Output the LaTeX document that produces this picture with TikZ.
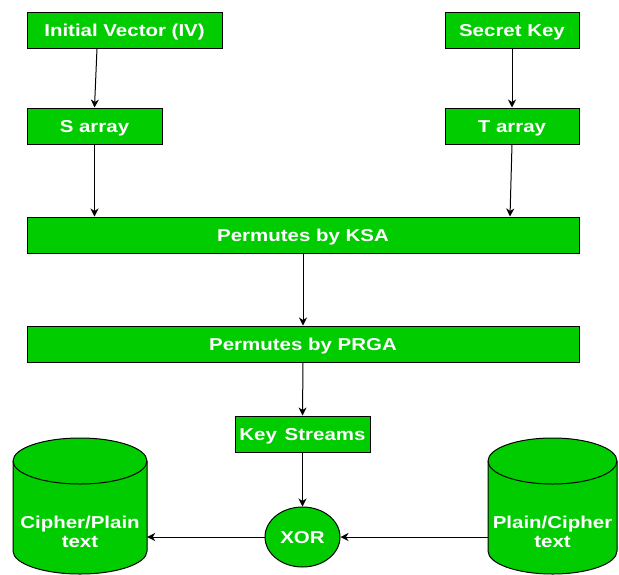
\documentclass[tikz,border=0pt]{standalone}
\usepackage{fontspec}
\newfontfamily\lblfont{Liberation Sans}[FakeStretch=1.19]
\usetikzlibrary{arrows.meta,calc,backgrounds,shapes.geometric}
\definecolor{boxgreen}{HTML}{00CC00}
\begin{document}
\begin{tikzpicture}[x=1pt,y=-1pt,
  lbl/.style={text=white,font=\lblfont\bfseries\fontsize{17.2}{19.5}\selectfont},
  box/.style={lbl,draw=black,fill=boxgreen,line width=1pt,minimum height=36pt,inner sep=0pt,text height=12.3pt,text depth=0pt},
  xorshape/.style={lbl,ellipse,draw=black,fill=boxgreen,line width=1pt,minimum width=75pt,minimum height=60pt,inner sep=0pt,text height=12.3pt,text depth=0pt},
  cyltext/.style={lbl,align=center,inner sep=0pt},
  cylfill/.style={draw=black,fill=boxgreen,line width=1pt},
  arr/.style={draw=black,line width=1pt,-{Stealth[length=8pt,width=8pt,inset=2.5pt]}}]
\useasboundingbox (0,0) rectangle (619,574);

% boxes
\node[box,minimum width=195pt] (iv) at (124.5,30) {Initial Vector (IV)};
\node[box,minimum width=134pt] (sk) at (512,30) {Secret Key};
\node[box,minimum width=135pt] (sarr) at (94.5,126) {S array};
\node[box,minimum width=134pt] (tarr) at (512,126) {T array};
\node[box,minimum width=552pt] (ksa) at (303,235) {Permutes by KSA};
\node[box,minimum width=552pt] (prga) at (303,344) {Permutes by PRGA};
\node[box,minimum width=135pt] (ks) at (302.5,434) {Key\hspace{0.45em}Streams};
\node[xorshape] (xor) at (302.5,537) {XOR};

% cylinder texts
\node[cyltext,minimum width=134pt] (lc) at (80,532) {Cipher/Plain\\text};
\node[cyltext,minimum width=129pt] (rc) at (552.5,532) {Plain/Cipher\\text};

% cylinder bodies
\begin{scope}[on background layer]
  \path[cylfill] (13,461) -- (13,551) arc[start angle=180,end angle=360,x radius=67pt,y radius=23pt]
    -- (147,461) arc[start angle=0,end angle=180,x radius=67pt,y radius=23pt] -- cycle;
  \draw[line width=1pt] (13,461) arc[start angle=180,end angle=360,x radius=67pt,y radius=23pt];
  \path[cylfill] (488,461) -- (488,551) arc[start angle=180,end angle=360,x radius=64.5pt,y radius=23pt]
    -- (617,461) arc[start angle=0,end angle=180,x radius=64.5pt,y radius=23pt] -- cycle;
  \draw[line width=1pt] (488,461) arc[start angle=180,end angle=360,x radius=64.5pt,y radius=23pt];
\end{scope}

% connectors
\draw[arr] ([xshift=2.5pt]sarr.north |- iv.south) -- (sarr.north);
\draw[arr] (sk.south) -- (tarr.north);
\draw[arr] (sarr.south) -- (sarr.south |- ksa.north);
\draw[arr] (tarr.south) -- ([xshift=-2pt]tarr.south |- ksa.north);
\draw[arr] (ksa.south) -- (prga.north);
\draw[arr] (prga.south) -- (ks.north);
\draw[arr] (ks.south) -- (xor.north);
\draw[arr] (rc.west |- xor) -- (xor.east);
\draw[arr] (xor.west) -- (lc.east |- xor);
\end{tikzpicture}
\end{document}
